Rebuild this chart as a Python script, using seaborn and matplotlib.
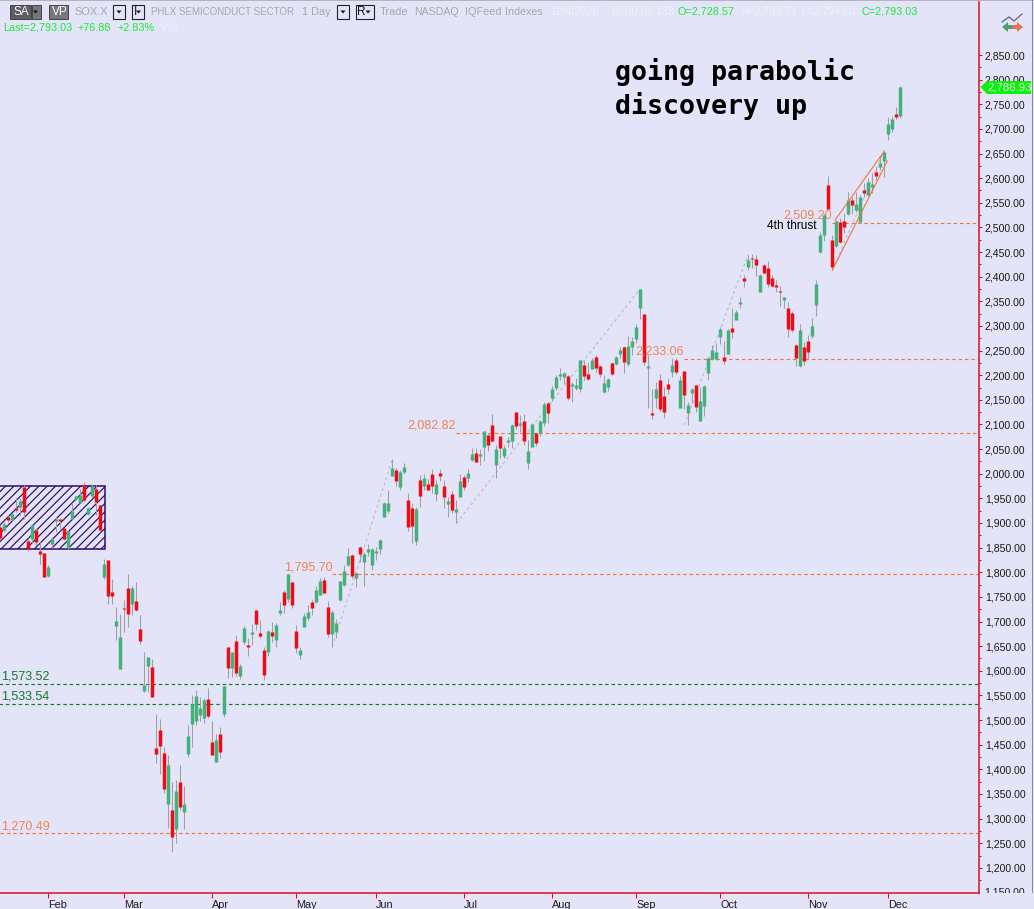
import pandas as pd
import numpy as np
import matplotlib
matplotlib.use("Agg")
import matplotlib.pyplot as plt
import seaborn as sns
from matplotlib.patches import Rectangle, Polygon
from matplotlib.transforms import Bbox

# =========================================
# Data (SOX.X daily bars)
# =========================================

opens = [
    1891, 1885, 1912, 1906, 1930, 1933, 1974, 1864, 1867, 1886,
    1843, 1839, 1792, 1857, 1905, 1909, 1889, 1849, 1908, 1948,
    1941, 1977, 1918, 1955, 1969, 1936, 1790, 1825, 1760, 1691,
    1604, 1728, 1769, 1736, 1742, 1685, 1559, 1610, 1608, 1443,
    1480, 1433, 1329, 1317, 1279, 1374, 1313, 1431, 1492, 1498,
    1510, 1504, 1543, 1455, 1415, 1472, 1512, 1649, 1605, 1660,
    1589, 1659, 1652, 1675, 1723, 1677, 1642, 1639, 1679, 1662,
    1717, 1760, 1746, 1780, 1681, 1632, 1689, 1707, 1740, 1740,
    1754, 1784, 1729, 1675, 1679, 1744, 1774, 1814, 1835, 1788,
    1852, 1821, 1841, 1815, 1839, 1847, 1913, 1924, 1995, 2008,
    1974, 2004, 1947, 1930, 1864, 1987, 1975, 1979, 2000, 1959,
    2001, 1975, 1938, 1959, 1922, 1953, 1993, 1991, 2028, 2042,
    2036, 2054, 2079, 2099, 2018, 2076, 2036, 2064, 2066, 2125,
    2099, 2107, 2022, 2055, 2083, 2082, 2103, 2143, 2154, 2174,
    2198, 2196, 2198, 2178, 2174, 2171, 2221, 2202, 2213, 2237,
    2219, 2166, 2176, 2225, 2223, 2243, 2257, 2223, 2258, 2273,
    2337, 2324, 2214, 2124, 2154, 2190, 2158, 2183, 2206, 2231,
    2133, 2208, 2123, 2164, 2180, 2107, 2137, 2204, 2233, 2232,
    2278, 2236, 2243, 2296, 2313, 2344, 2397, 2420, 2437, 2436,
    2368, 2424, 2418, 2397, 2383, 2370, 2353, 2336, 2326, 2261,
    2219, 2257, 2269, 2280, 2342, 2451, 2485, 2586, 2474, 2463,
    2510, 2513, 2527, 2556, 2535, 2510, 2576, 2566, 2583, 2612,
    2623, 2635, 2690, 2700, 2730, 2726,
]
highs = [
    1896, 1903, 1914, 1921, 1950, 1950, 1977, 1869, 1896, 1889,
    1862, 1839, 1815, 1872, 1913, 1909, 1889, 1884, 1940, 1955,
    1970, 1983, 1932, 1980, 1977, 1936, 1827, 1825, 1786, 1730,
    1715, 1744, 1796, 1772, 1780, 1713, 1638, 1627, 1623, 1512,
    1503, 1445, 1429, 1374, 1378, 1409, 1366, 1490, 1551, 1561,
    1547, 1544, 1566, 1498, 1472, 1486, 1569, 1649, 1639, 1673,
    1614, 1691, 1666, 1695, 1723, 1703, 1649, 1683, 1699, 1696,
    1739, 1764, 1796, 1780, 1693, 1649, 1717, 1733, 1744, 1772,
    1788, 1790, 1742, 1723, 1706, 1782, 1815, 1849, 1837, 1801,
    1853, 1842, 1857, 1850, 1852, 1868, 1943, 1967, 2029, 2011,
    2008, 2022, 1960, 1940, 1932, 1997, 2000, 1989, 2009, 1987,
    2010, 1987, 1953, 1964, 1947, 1999, 1997, 2009, 2052, 2052,
    2051, 2087, 2082, 2121, 2058, 2076, 2058, 2074, 2101, 2125,
    2119, 2121, 2068, 2102, 2083, 2109, 2146, 2146, 2178, 2200,
    2214, 2206, 2200, 2187, 2194, 2231, 2231, 2227, 2235, 2241,
    2221, 2200, 2195, 2226, 2239, 2258, 2259, 2280, 2278, 2303,
    2376, 2324, 2241, 2173, 2187, 2202, 2177, 2194, 2234, 2234,
    2198, 2208, 2146, 2175, 2181, 2177, 2180, 2236, 2261, 2266,
    2297, 2270, 2293, 2336, 2332, 2359, 2403, 2445, 2447, 2444,
    2405, 2426, 2432, 2403, 2393, 2381, 2358, 2349, 2331, 2263,
    2304, 2268, 2282, 2317, 2393, 2491, 2527, 2604, 2485, 2515,
    2520, 2529, 2572, 2562, 2572, 2566, 2590, 2600, 2610, 2622,
    2645, 2657, 2724, 2726, 2744, 2787,
]
lows = [
    1865, 1882, 1903, 1905, 1923, 1916, 1909, 1844, 1859, 1855,
    1817, 1791, 1791, 1849, 1882, 1886, 1865, 1848, 1906, 1947,
    1940, 1943, 1916, 1953, 1916, 1882, 1786, 1736, 1736, 1662,
    1604, 1678, 1689, 1713, 1721, 1654, 1557, 1557, 1547, 1413,
    1390, 1352, 1281, 1233, 1251, 1317, 1279, 1424, 1446, 1490,
    1498, 1495, 1505, 1429, 1415, 1423, 1507, 1585, 1588, 1590,
    1583, 1654, 1629, 1652, 1683, 1666, 1581, 1629, 1659, 1649,
    1713, 1717, 1740, 1727, 1637, 1624, 1689, 1703, 1714, 1737,
    1753, 1757, 1669, 1649, 1666, 1742, 1772, 1813, 1788, 1771,
    1821, 1772, 1832, 1805, 1825, 1837, 1913, 1920, 1995, 1975,
    1967, 2000, 1884, 1860, 1856, 1932, 1967, 1967, 1960, 1945,
    1986, 1930, 1913, 1920, 1899, 1952, 1967, 1984, 2026, 2024,
    2018, 2026, 2047, 2064, 1992, 2031, 2031, 2055, 2053, 2090,
    2085, 2058, 2009, 2054, 2057, 2076, 2097, 2102, 2148, 2170,
    2190, 2182, 2150, 2146, 2170, 2166, 2190, 2190, 2213, 2207,
    2197, 2164, 2168, 2200, 2221, 2234, 2205, 2219, 2241, 2265,
    2314, 2221, 2134, 2111, 2133, 2127, 2114, 2162, 2197, 2202,
    2133, 2131, 2099, 2143, 2125, 2107, 2118, 2190, 2231, 2231,
    2263, 2223, 2243, 2276, 2312, 2336, 2380, 2414, 2417, 2402,
    2368, 2407, 2380, 2380, 2368, 2340, 2337, 2277, 2288, 2219,
    2217, 2220, 2234, 2275, 2320, 2449, 2473, 2537, 2413, 2461,
    2468, 2488, 2525, 2528, 2532, 2510, 2562, 2564, 2569, 2596,
    2617, 2603, 2678, 2694, 2720, 2722,
]
closes = [
    1869, 1897, 1906, 1918, 1926, 1945, 1923, 1848, 1896, 1862,
    1837, 1791, 1811, 1867, 1909, 1904, 1867, 1884, 1925, 1955,
    1957, 1947, 1930, 1975, 1942, 1886, 1817, 1752, 1752, 1701,
    1669, 1726, 1715, 1769, 1723, 1660, 1571, 1627, 1547, 1431,
    1447, 1360, 1409, 1263, 1356, 1324, 1329, 1468, 1532, 1549,
    1524, 1541, 1508, 1429, 1459, 1435, 1569, 1605, 1639, 1595,
    1610, 1687, 1649, 1678, 1695, 1671, 1591, 1681, 1671, 1693,
    1723, 1733, 1796, 1733, 1646, 1642, 1711, 1719, 1727, 1764,
    1782, 1758, 1675, 1719, 1698, 1782, 1802, 1833, 1792, 1798,
    1837, 1837, 1847, 1848, 1843, 1865, 1941, 1941, 2011, 1985,
    2004, 2013, 1892, 1894, 1928, 1955, 1991, 1967, 1975, 1979,
    1995, 1953, 1945, 1926, 1928, 1985, 1974, 2001, 2040, 2024,
    2040, 2087, 2058, 2066, 2050, 2052, 2052, 2068, 2099, 2097,
    2103, 2067, 2046, 2101, 2062, 2107, 2141, 2123, 2172, 2196,
    2202, 2205, 2154, 2182, 2180, 2231, 2198, 2192, 2231, 2214,
    2202, 2185, 2193, 2202, 2236, 2251, 2227, 2259, 2269, 2298,
    2376, 2227, 2219, 2119, 2172, 2131, 2125, 2172, 2221, 2206,
    2190, 2160, 2139, 2171, 2136, 2148, 2179, 2234, 2252, 2248,
    2293, 2229, 2292, 2288, 2329, 2348, 2391, 2434, 2435, 2424,
    2403, 2407, 2385, 2381, 2379, 2368, 2358, 2294, 2292, 2235,
    2292, 2228, 2247, 2300, 2385, 2485, 2525, 2537, 2420, 2513,
    2470, 2501, 2556, 2545, 2547, 2562, 2569, 2593, 2589, 2604,
    2631, 2653, 2710, 2720, 2724, 2785,
]

# drawn levels with their labels
orange_levels = [2509.20, 2233.06, 2082.82, 1795.70, 1270.49]
orange_starts = [208, 171, 114, 83, 0]
green_levels = [1573.52, 1533.54]

# dotted swing lines, bar number and price at both ends
swing_bars = [(83, 98), (114, 160), (171, 187), (208, 221)]
swing_prices = [(1649, 2029), (1899, 2376), (2099, 2445), (2413, 2657)]

month_names = ["Feb", "Mar", "Apr", "May", "Jun", "Jul", "Aug", "Sep", "Oct", "Nov", "Dec"]
month_bars = [12, 31, 53, 74, 94, 116, 138, 159, 180, 202, 222]

# =========================================
# Figure
# =========================================

W, H = 1034, 909
BG = "#E4E4F8"
RED = "#D9101E"
UP = "#45B07A"
DOWN = "#F00A14"
ORANGE = "#F0763C"
LABEL_ORANGE = "#EE8455"
DKGREEN = "#15782A"
DASH = (0, (3, 2.4))

sns.set_theme(style="white")
plt.rcParams["font.family"] = ["Liberation Sans", "DejaVu Sans"]
plt.rcParams["hatch.linewidth"] = 0.85

fig = plt.figure(figsize=(W / 100, H / 100), dpi=100, facecolor=BG)
ax = fig.add_axes([0, (H - 893) / H, 978.5 / W, (893 - 2) / H], facecolor=BG)


def ptext(x, y, s, **kw):
    kw.setdefault("va", "center")
    kw.setdefault("fontsize", 8)
    return fig.text(x / W, 1 - y / H, s, **kw)


def pbox(x0, y0, x1, y1, **kw):
    fig.patches.append(Rectangle((x0 / W, 1 - y1 / H), (x1 - x0) / W, (y1 - y0) / H,
                                 transform=fig.transFigure, figure=fig, **kw))


def ppoly(pts, **kw):
    pts = [(x / W, 1 - y / H) for x, y in pts]
    fig.patches.append(Polygon(pts, transform=fig.transFigure, figure=fig, **kw))


# =========================================
# Candles
# =========================================

bars = pd.DataFrame({"open": opens, "high": highs, "low": lows, "close": closes})
bars["bar"] = bars.index
bars["side"] = np.where(bars["close"] >= bars["open"], "up", "down")

wicks = bars.melt(id_vars=["bar", "side"], value_vars=["low", "high"], value_name="price")
bodies = bars.melt(id_vars=["bar", "side"], value_vars=["open", "close"], value_name="price")

sns.lineplot(data=wicks, x="bar", y="price", units="bar", estimator=None, color="#9E9EA4",
             linewidth=0.75, legend=False, ax=ax, zorder=3, solid_capstyle="butt")
sns.lineplot(data=bodies, x="bar", y="price", units="bar", estimator=None, hue="side",
             palette={"up": UP, "down": DOWN}, linewidth=2.5, legend=False, ax=ax, zorder=4,
             solid_capstyle="butt")

# =========================================
# Overlays
# =========================================

ax.add_patch(Rectangle((-2, 1848), 28.1, 127, facecolor="none", edgecolor="#2E0C66",
                       hatch="////", linewidth=1.1, zorder=2))

for level, start in zip(orange_levels, orange_starts):
    ax.plot([start, 246], [level, level], color=ORANGE, linewidth=0.85, linestyle=DASH,
            zorder=2, snap=True)
for level in green_levels:
    ax.plot([-1, 246], [level, level], color=DKGREEN, linewidth=0.85, linestyle=DASH,
            zorder=2, snap=True)

for xs, ys in zip(swing_bars, swing_prices):
    ax.plot(xs, ys, color="#B4B4B8", linewidth=0.7, linestyle=(0, (3, 3)), zorder=2)

# rising wedge at the end
ax.plot([208, 221.75], [2413, 2635], color=ORANGE, linewidth=0.8, zorder=5)
ax.plot([208.7, 220.75], [2515, 2652], color=ORANGE, linewidth=0.8, zorder=5)

ax.text(208.0, 2509.20 + 2, "2,509.20", color=LABEL_ORANGE, fontsize=9, ha="right", va="bottom", zorder=1)
ax.text(171.0, 2233.06 + 2, "2,233.06", color=LABEL_ORANGE, fontsize=9, ha="right", va="bottom", zorder=6)
ax.text(114.0, 2082.82 + 2, "2,082.82", color=LABEL_ORANGE, fontsize=9, ha="right", va="bottom")
ax.text(83.0, 1795.70 + 2, "1,795.70", color=LABEL_ORANGE, fontsize=9, ha="right", va="bottom")
ax.text(0.2, 1270.49 + 2, "1,270.49", color=LABEL_ORANGE, fontsize=9, ha="left", va="bottom")
ax.text(0.2, 1573.52 + 2, "1,573.52", color=DKGREEN, fontsize=9, ha="left", va="bottom")
ax.text(0.2, 1533.54 + 2, "1,533.54", color=DKGREEN, fontsize=9, ha="left", va="bottom")

ptext(767, 226, "4th thrust", color="black", fontsize=8.6)
ptext(615, 72, "going parabolic", family="DejaVu Sans Mono", fontweight="bold",
      fontsize=19.2, color="black")
ptext(615, 106, "discovery up", family="DejaVu Sans Mono", fontweight="bold",
      fontsize=19.2, color="black")

# =========================================
# Axes
# =========================================

ax.set_xlim(-0.08, 244.55)
ax.set_ylim(1148.9, 2957.6)
ax.set_xlabel("")
ax.set_ylabel("")
for side in ["left", "top"]:
    ax.spines[side].set_visible(False)
for side in ["right", "bottom"]:
    ax.spines[side].set_color(RED)
    ax.spines[side].set_linewidth(1.1)

ax.yaxis.tick_right()
y_major = np.arange(1200, 2851, 50)
ax.set_yticks(y_major)
ax.set_yticklabels([f"{v:,.2f}" for v in y_major], fontsize=7.6, color="#1A1A1A")
ax.set_yticks(np.arange(1175, 2826, 50), minor=True)
ax.tick_params(axis="y", which="major", length=2.4, width=0.8, color=RED, pad=2.2,
               right=True, left=False)
ax.tick_params(axis="y", which="minor", length=1.3, width=0.8, color=RED, right=True, left=False)

ax.set_xticks(month_bars)
ax.set_xticklabels(month_names, fontsize=7.8, color="#1A1A1A", ha="left")
ax.tick_params(axis="x", length=3.5, width=0.8, color=RED, pad=1.5, bottom=True)

# 1,150 sits on the bottom edge and is cut off there
cut = ptext(984, 892.6, "1,150.00", fontsize=7.6, color="#1A1A1A")
cut.set_clip_on(True)
cut.set_clip_box(Bbox([[975, H - 893], [1034, H - 870]]))

# =========================================
# Price tag, icon, frame
# =========================================

ppoly([(980.5, 87), (987, 81), (1031, 81), (1031, 94), (987, 94)], facecolor="#0CF00C",
      edgecolor="none", zorder=5)
ptext(987, 87.5, "2,786.93", color="#EAFBEA", fontsize=8.2, zorder=6)

fig.add_artist(plt.Line2D([1002 / W, 1009 / W, 1014 / W, 1022 / W],
                          [1 - 22 / H, 1 - 17 / H, 1 - 21 / H, 1 - 14 / H],
                          color="#68708A", linewidth=1.0))
ppoly([(1002, 27), (1008, 22), (1008, 25), (1013, 25), (1013, 29), (1008, 29), (1008, 32)],
      facecolor="#4E9E78", edgecolor="none")
ppoly([(1023, 27), (1017, 22), (1017, 25), (1012, 25), (1012, 29), (1017, 29), (1017, 32)],
      facecolor="#E2744E", edgecolor="none")

pbox(0, 0, W, 1.2, facecolor="#B4B4BC", edgecolor="none")
pbox(1032, 0, 1033.2, 893, facecolor="#8A8A92", edgecolor="none")

# =========================================
# Header
# =========================================

GREY = "#A6A6AC"
WHITE = "#F2F2FA"
LIME = "#1CE838"

pbox(9.5, 5, 31, 18.5, facecolor="#5E5E62", edgecolor="#333333", linewidth=0.6)
pbox(32, 5, 41, 18.5, facecolor="#77777B", edgecolor="#333333", linewidth=0.6)
ptext(14, 12, "SA", color="white", fontsize=8.5)
pbox(48.5, 5, 67.5, 18.5, facecolor="#77777B", edgecolor="#333333", linewidth=0.6)
ptext(52, 12, "VP", color="white", fontsize=8.5)

for x0, x1, lab in [(33, 41, ""), (112.5, 124.5, ""), (131.5, 144, "I"), (336.5, 348.5, ""), (355.5, 373.5, "R")]:
    if x0 > 40:
        pbox(x0, 5.5, x1, 18.5, facecolor=BG, edgecolor="#222222", linewidth=0.8)
    if lab:
        ptext(x0 + 2, 12, lab, color="#111111", fontsize=8.5)
    ppoly([(x1 - 8, 10.5), (x1 - 3, 10.5), (x1 - 5.5, 13.5)], facecolor="#111111", edgecolor="none")

header = [
    (74, "SOX.X", GREY, 7.9), (151, "PHLX SEMICONDUCT SECTOR", GREY, 7.0), (302, "1 Day", GREY, 7.9),
    (380, "Trade", GREY, 7.9), (414, "NASDAQ", GREY, 7.6), (465, "IQFeed", GREY, 7.9),
    (505, "Indexes", GREY, 7.7), (550, "12/4/2020", WHITE, 7.9), (610, "16:00:01.138", WHITE, 7.9),
    (678, "O=2,728.57", LIME, 7.8), (740, "H=2,793.74", WHITE, 7.8), (801, "L=2,724.60", WHITE, 7.8),
    (861, "C=2,793.03", LIME, 7.8),
]
for x, s, c, size in header:
    ptext(x, 12, s, color=c, fontsize=size)

for x, s, c in [(3, "Last=2,793.03", LIME), (78, "+76.88", LIME), (117, "+2.83%", LIME), (160, "V=0", WHITE)]:
    ptext(x, 28, s, color=c, fontsize=7.8)

fig.savefig("out.png", dpi=100, facecolor=BG)
